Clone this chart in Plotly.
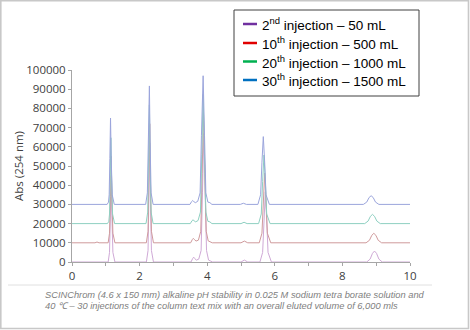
import plotly.graph_objects as go

# ---- data (time in min, absorbance relative to each trace baseline) ----
series_names = ["2<sup>nd</sup> injection – 50 mL", "10<sup>th</sup> injection – 500 mL",
                "20<sup>th</sup> injection – 1000 mL", "30<sup>th</sup> injection – 1500 mL"]
offsets = [0, 10000, 20000, 30000]

t_2nd = [0, 0.70, 0.75, 0.80, 1.07, 1.11, 1.14, 1.16, 1.18, 1.21, 1.27,
         2.20, 2.25, 2.28, 2.30, 2.32, 2.35, 2.41,
         3.52, 3.57, 3.60, 3.63, 3.68, 3.75, 3.82, 3.86, 3.90, 3.94, 3.98, 4.04, 4.10, 4.16,
         5.00, 5.10, 5.20,
         5.56, 5.64, 5.68, 5.72, 5.76, 5.80, 5.90,
         8.72, 8.82, 8.89, 8.95, 9.01, 9.08, 9.18, 10]
a_2nd = [0, 0, 200, 0, 0, 5000, 24000, 45000, 24000, 5000, 0,
         0, 6000, 33000, 62000, 33000, 6000, 0,
         0, 1800, 2500, 1800, 1000, 1500, 6000, 36000, 67000, 36000, 6000, 1000, 600, 0,
         0, 1000, 0,
         0, 5000, 22000, 36500, 22000, 5000, 0,
         0, 1500, 4500, 5700, 4500, 1500, 0, 0]

t_10th = [0, 0.68, 0.74, 0.80, 1.07, 1.11, 1.14, 1.16, 1.18, 1.21, 1.27,
          2.20, 2.25, 2.28, 2.30, 2.32, 2.35, 2.41,
          3.51, 3.56, 3.59, 3.62, 3.67, 3.74, 3.81, 3.85, 3.89, 3.93, 3.97, 4.03, 4.09, 4.15,
          5.00, 5.10, 5.20,
          5.54, 5.62, 5.66, 5.70, 5.74, 5.78, 5.88,
          8.70, 8.80, 8.87, 8.93, 8.99, 9.06, 9.16, 10]
a_10th = [0, 0, 400, 0, 0, 5000, 24000, 45000, 24000, 5000, 0,
          0, 6000, 33000, 62000, 33000, 6000, 0,
          0, 1700, 2300, 1700, 900, 1400, 6000, 36000, 68000, 36000, 6000, 1000, 700, 0,
          0, 900, 0,
          0, 5000, 22000, 36300, 22000, 5000, 0,
          0, 1300, 3900, 4950, 3900, 1300, 0, 0]

t_20th = [0, 1.05, 1.09, 1.11, 1.13, 1.15, 1.17, 1.20, 1.26,
          2.19, 2.24, 2.27, 2.29, 2.31, 2.34, 2.40,
          3.50, 3.55, 3.58, 3.61, 3.66, 3.73, 3.80, 3.84, 3.88, 3.92, 3.96, 4.02, 4.08, 4.14,
          5.00, 5.09, 5.18,
          5.52, 5.60, 5.64, 5.68, 5.72, 5.76, 5.86,
          8.66, 8.76, 8.83, 8.89, 8.95, 9.02, 9.12, 10]
a_20th = [0, 0, 1200, 5000, 24000, 44700, 24000, 5000, 0,
          0, 6000, 33000, 61800, 33000, 6000, 0,
          0, 1500, 2000, 1500, 900, 1600, 6000, 36000, 67300, 36000, 6000, 1200, 900, 0,
          0, 700, 0,
          0, 5000, 22000, 35700, 22000, 5000, 0,
          0, 1300, 3800, 4800, 3800, 1300, 0, 0]

t_30th = [0, 1.04, 1.08, 1.10, 1.12, 1.14, 1.16, 1.19, 1.25,
          2.18, 2.23, 2.26, 2.29, 2.31, 2.34, 2.40,
          3.49, 3.54, 3.57, 3.60, 3.65, 3.72, 3.79, 3.83, 3.88, 3.92, 3.96, 4.02, 4.08, 4.14,
          4.98, 5.07, 5.16,
          5.50, 5.58, 5.62, 5.66, 5.70, 5.74, 5.84,
          8.62, 8.72, 8.79, 8.85, 8.91, 8.98, 9.08, 10]
a_30th = [0, 0, 1200, 5000, 24000, 45000, 24000, 5000, 0,
          0, 6000, 33000, 61700, 33000, 6000, 0,
          0, 1500, 2000, 1500, 900, 1600, 6000, 36000, 67000, 36000, 6000, 1200, 900, 0,
          0, 600, 0,
          0, 5000, 22000, 35300, 22000, 5000, 0,
          0, 1200, 3600, 4500, 3600, 1200, 0, 0]

times = [t_2nd, t_10th, t_20th, t_30th]
absorb = [a_2nd, a_10th, a_20th, a_30th]

x_ticks = [0, 2, 4, 6, 8, 10]
y_ticks = [0, 10000, 20000, 30000, 40000, 50000, 60000, 70000, 80000, 90000, 100000]

trace_colors = ["#cfa9d6", "#cf9a9c", "#8fd0c2", "#9ba5dc"]
legend_colors = ["#7030a0", "#e00000", "#00b050", "#0070c0"]

caption = ["SCINChrom (4.6 x 150 mm) alkaline pH stability in 0.025 M sodium tetra borate solution and",
           "40 ℃ – 30 injections of the column text mix with an overall eluted volume of 6,000 mls"]

# ---- figure ----
L, R, T, B = 72, 60, 70, 68
W, H = 470, 330
PW, PH = W - L - R, H - T - B


def px(x):
    return (x - L) / PW


def py(y):
    return (H - B - y) / PH


fig = go.Figure()
for name, t, a, off, col in zip(series_names, times, absorb, offsets, trace_colors):
    fig.add_trace(go.Scatter(x=t, y=[v + off for v in a], mode="lines", name=name,
                             line=dict(color=col, width=1), showlegend=False))

tick_font = dict(family="Open Sans, Noto Sans, sans-serif", size=11.5, color="#404040")
fig.update_layout(
    width=W, height=H,
    margin=dict(l=L, r=R, t=T, b=B, pad=0),
    paper_bgcolor="white", plot_bgcolor="white",
    xaxis=dict(range=[0, 10], tickvals=x_ticks, ticks="outside", ticklen=3, tickcolor="#a6a6a6",
               showline=True, linecolor="#a6a6a6", linewidth=1, showgrid=False, zeroline=False,
               tickfont=tick_font, minor=dict(dtick=1, ticks="outside", ticklen=3, tickcolor="#a6a6a6")),
    yaxis=dict(range=[0, 100000], tickvals=y_ticks, tickformat="d", ticks="outside", ticklen=3,
               tickcolor="#a6a6a6",
               showline=True, linecolor="#a6a6a6", linewidth=1, showgrid=False, zeroline=False,
               tickfont=tick_font, title=dict(text="Abs (254 nm)", standoff=0,
                                              font=dict(family="Open Sans, Noto Sans, sans-serif", size=11.5, color="#404040"))),
)

shapes = []
annotations = []
# legend box
shapes.append(dict(type="rect", xref="paper", yref="paper", x0=px(234), x1=px(419), y0=py(96), y1=py(10),
                   line=dict(color="#404040", width=1), fillcolor="white", layer="above"))
rows = [24, 43, 61.5, 80]
for name, col, ry in zip(series_names, legend_colors, rows):
    shapes.append(dict(type="line", xref="paper", yref="paper", x0=px(243), x1=px(257), y0=py(ry), y1=py(ry),
                       line=dict(color=col, width=2.5), layer="above"))
    annotations.append(dict(xref="paper", yref="paper", x=px(260), y=py(ry), xanchor="left", yanchor="middle",
                            text=name, showarrow=False,
                            font=dict(family="Liberation Sans, Arial, sans-serif", size=13.5, color="#000000")))
# caption separator
shapes.append(dict(type="line", xref="paper", yref="paper", x0=px(8), x1=px(432), y0=py(285), y1=py(285),
                   line=dict(color="#e0e0e0", width=1)))
for line_text, cy in zip(caption, [295, 306]):
    annotations.append(dict(xref="paper", yref="paper", x=px(43), y=py(cy), xanchor="left", yanchor="middle",
                            text="<i>" + line_text + "</i>", showarrow=False,
                            font=dict(family="Liberation Sans, Arial, sans-serif", size=9.3, color="#808080")))
# outer frame
shapes.append(dict(type="rect", xref="paper", yref="paper", x0=px(0.8), x1=px(468.5), y0=py(328.5), y1=py(0.8),
                   line=dict(color="#c8c8c8", width=1.6)))

fig.update_layout(shapes=shapes, annotations=annotations)
fig.write_html("out.html")
